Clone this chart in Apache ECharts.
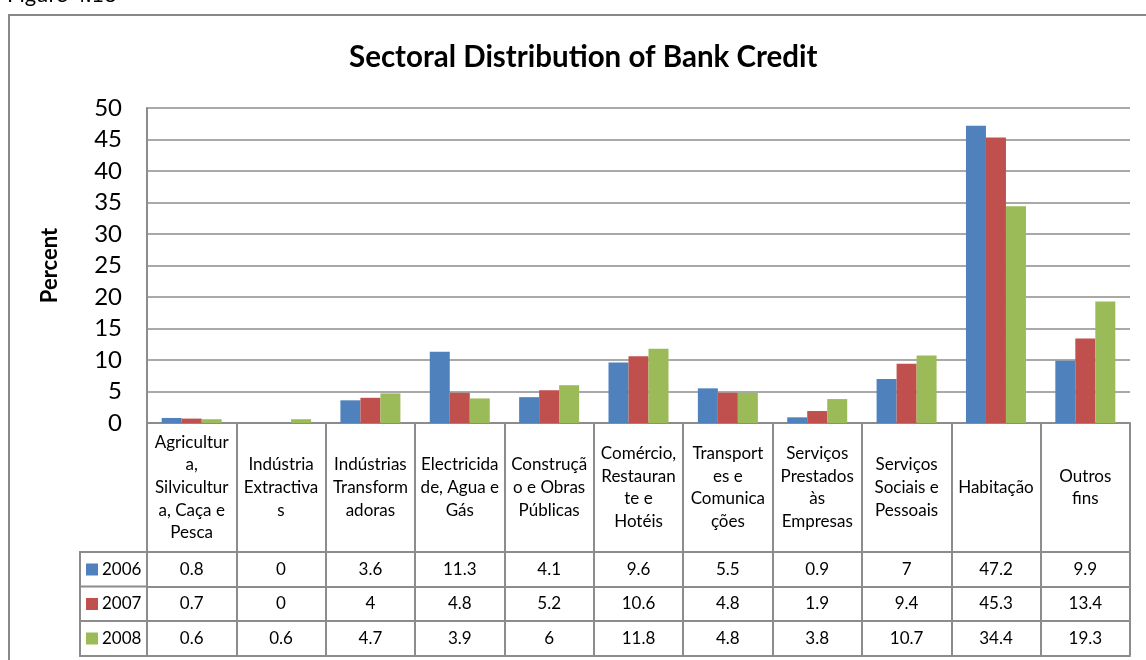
<!DOCTYPE html>
<html>
<head>
<meta charset="utf-8">
<script src="https://cdn.jsdelivr.net/npm/echarts@6/dist/echarts.min.js"></script>
<style>
  html, body { margin: 0; padding: 0; background: #fff; }
  #chart { width: 1146px; height: 660px; }
</style>
</head>
<body>
<div id="chart"></div>
<script>
// Sectoral distribution of bank credit, 2006-2008 (percent of total)
const categories = [
  'Agricultur\na,\nSilvicultur\na, Caça e\nPesca',
  'Indústria\nExtractiva\ns',
  'Indústrias\nTransform\nadoras',
  'Electricida\nde, Agua e\nGás',
  'Construçã\no e Obras\nPúblicas',
  'Comércio,\nRestauran\nte e\nHotéis',
  'Transport\nes e\nComunica\nções',
  'Serviços\nPrestados\nàs\nEmpresas',
  'Serviços\nSociais e\nPessoais',
  'Habitação',
  'Outros\nfins'
];
const years = ['2006', '2007', '2008'];
const values2006 = [0.8, 0, 3.6, 11.3, 4.1, 9.6, 5.5, 0.9, 7, 47.2, 9.9];
const values2007 = [0.7, 0, 4, 4.8, 5.2, 10.6, 4.8, 1.9, 9.4, 45.3, 13.4];
const values2008 = [0.6, 0.6, 4.7, 3.9, 6, 11.8, 4.8, 3.8, 10.7, 34.4, 19.3];
const yMin = 0, yMax = 50, yStep = 5;

const seriesValues = [values2006, values2007, values2008];
const colors = ['#4F81BD', '#C0504D', '#9BBB59'];
const FONT = 'Lato, "Liberation Sans", sans-serif';
const LINE = '#8c8c8c';

const HEADER_H = 129;   // height of the category-name row of the data table
const ROW_H = 34.5;     // height of each value row

// One extra x axis per table row: its line is the row's top border,
// its ticks are the cell separators and its labels are the values.
function rowAxis(values, offset) {
  return {
    type: 'category',
    gridIndex: 0,
    position: 'bottom',
    offset: offset,
    data: categories,
    boundaryGap: true,
    axisLine: { show: true, lineStyle: { color: LINE, width: 2 } },
    axisTick: { show: !!values, interval: 0, length: ROW_H, lineStyle: { color: LINE, width: 2 } },
    axisLabel: {
      show: !!values,
      interval: 0,
      margin: ROW_H / 2,
      verticalAlign: 'middle',
      fontFamily: FONT,
      fontSize: 17,
      color: '#000',
      formatter: (v, i) => values ? String(values[i]) : ''
    },
    splitLine: { show: false }
  };
}

const chart = echarts.init(document.getElementById('chart'), null, { renderer: 'canvas' });

const xAxes = [{
  type: 'category',
  gridIndex: 0,
  position: 'bottom',
  data: categories,
  boundaryGap: true,
  axisLine: { show: true, lineStyle: { color: LINE, width: 2 } },
  axisTick: { show: true, interval: 0, length: HEADER_H, lineStyle: { color: LINE, width: 2 } },
  axisLabel: {
    interval: 0,
    margin: HEADER_H / 2,
    verticalAlign: 'middle',
    align: 'center',
    fontFamily: FONT,
    fontSize: 17,
    lineHeight: 22.7,
    color: '#000'
  },
  splitLine: { show: false }
}];
seriesValues.forEach((vals, i) => xAxes.push(rowAxis(vals, HEADER_H + ROW_H * i)));
xAxes.push(rowAxis(null, HEADER_H + ROW_H * 3));

chart.setOption({
  animation: false,
  backgroundColor: '#fff',
  title: {
    text: 'Sectoral Distribution of Bank Credit',
    left: 344,
    top: 37,
    textStyle: { fontFamily: FONT, fontSize: 29.5, fontWeight: 'bold', color: '#000' }
  },
  legend: {
    orient: 'vertical',
    left: 86,
    top: 559.5,
    padding: 0,
    itemWidth: 12,
    itemHeight: 12,
    itemGap: 14.5,
    icon: 'rect',
    selectedMode: false,
    data: years,
    textStyle: { fontFamily: FONT, fontSize: 17, lineHeight: 20, color: '#000', padding: [0, 0, 0, -1] }
  },
  grid: { left: 147, right: 16, top: 108, bottom: 237, containLabel: false },
  xAxis: xAxes,
  yAxis: {
    type: 'value',
    min: yMin,
    max: yMax,
    interval: yStep,
    name: 'Percent',
    nameLocation: 'middle',
    nameRotate: 90,
    nameGap: 86,
    nameTextStyle: { fontFamily: FONT, fontSize: 22, fontWeight: 'bold', color: '#000' },
    axisLine: { show: true, lineStyle: { color: LINE, width: 2 } },
    axisTick: { show: false },
    axisLabel: { margin: 25, fontFamily: FONT, fontSize: 24, color: '#000' },
    splitLine: { show: true, lineStyle: { color: LINE, width: 1.5 } }
  },
  series: years.map((y, i) => ({
    name: y,
    type: 'bar',
    xAxisIndex: 0,
    data: seriesValues[i],
    barWidth: 20,
    barGap: '0%',
    itemStyle: { color: colors[i] }
  })),
  graphic: [
    // chart frame
    { type: 'rect', shape: { x: 9, y: 15, width: 1200, height: 700 },
      style: { fill: 'none', stroke: '#888', lineWidth: 2 }, z: 0 },
    // figure caption, running off the top edge
    { type: 'text', left: 7, top: -16,
      style: { text: 'Figure 4.16', fontFamily: FONT, fontSize: 22, fill: '#000' } },
    // legend column of the data table
    { type: 'polyline', z: 5,
      shape: { points: [[147, 552], [80, 552], [80, 656], [147, 656]] },
      style: { stroke: LINE, lineWidth: 2, fill: 'none' } },
    { type: 'line', z: 5, shape: { x1: 80, y1: 586.5, x2: 147, y2: 586.5 },
      style: { stroke: LINE, lineWidth: 2 } },
    { type: 'line', z: 5, shape: { x1: 80, y1: 621, x2: 147, y2: 621 },
      style: { stroke: LINE, lineWidth: 2 } }
  ]
});
</script>
</body>
</html>
